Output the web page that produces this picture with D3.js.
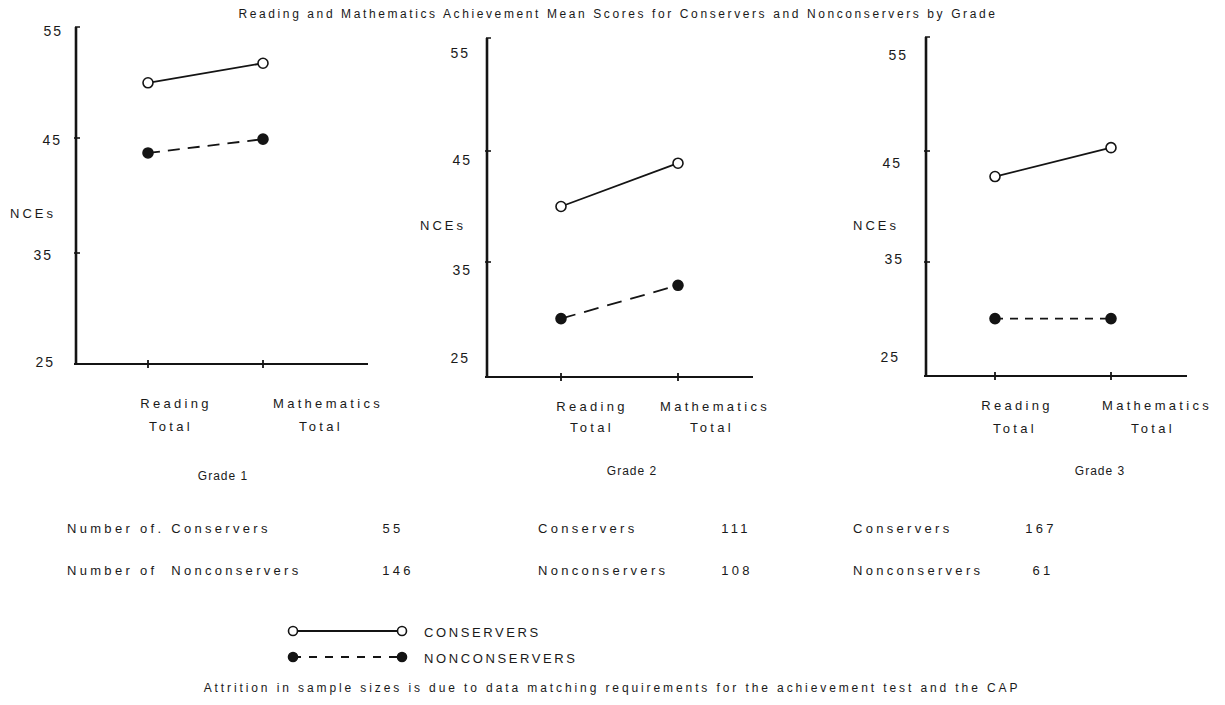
<!DOCTYPE html>
<html>
<head>
<meta charset="utf-8">
<script src="https://cdn.jsdelivr.net/npm/d3@7"></script>
<style>
  body { margin: 0; background: #fff; }
  svg { display: block; font-family: "Liberation Sans", Arial, sans-serif; }
  text { fill: #1a1a1a; }
  .title { font-size: 12px; letter-spacing: 2.6px; }
  .tick-label { font-size: 14px; letter-spacing: 2px; }
  .nces { font-size: 13px; letter-spacing: 3px; }
  .cat { font-size: 13px; letter-spacing: 3.3px; }
  .grade { font-size: 12px; letter-spacing: 1px; }
  .count { font-size: 13px; letter-spacing: 3.3px; }
  .legend { font-size: 13px; letter-spacing: 2.6px; }
  .foot { font-size: 12px; letter-spacing: 2.9px; }
</style>
</head>
<body>
<svg id="chart"></svg>
<script>
// values
const categories = ["Reading Total", "Mathematics Total"];
const grades = ["Grade 1", "Grade 2", "Grade 3"];
const conserverScores = [[49.8, 51.5], [40.0, 43.9], [42.7, 45.3]];
const nonconserverScores = [[43.7, 44.9], [29.9, 32.9], [29.9, 29.9]];
const yTicks = [25, 35, 45, 55];
const conserverLabels = ["Number of. Conservers", "Conservers", "Conservers"];
const nonconserverLabels = ["Number of  Nonconservers", "Nonconservers", "Nonconservers"];
const conserverCounts = [55, 111, 167];
const nonconserverCounts = [146, 108, 61];
const legendLabels = ["CONSERVERS", "NONCONSERVERS"];
const titleText = "Reading and Mathematics Achievement Mean Scores for Conservers and Nonconservers by Grade";
const footText = "Attrition in sample sizes is due to data matching requirements for the achievement test and the CAP";

const width = 1225;
const height = 705;
const ink = "#141414";

// panel placement (the scan is a bit crooked, so every panel gets its own)
const panels = [
  { axisX: 76, top: 27, base: 364, right: 368, xRange: [148, 263], yRange: [368, 23],
    tickRight: [55, 53, 62, 63], tickY: [362, 255, 140, 31],
    ncesX: 10, ncesY: 213, catDx: [[28, 23], [65, 58]], catY: [403, 426],
    gradeX: 223, gradeY: 476, dash: "12,8", countX: 67, numX: [393, 398] },
  { axisX: 487, top: 38, base: 377, right: 753, xRange: [561, 678], yRange: [373, 40],
    tickRight: [470, 472, 472, 470], tickY: [358, 270, 160, 53],
    ncesX: 420, ncesY: 225, catDx: [[31, 31], [37, 34]], catY: [406, 427],
    gradeX: 632, gradeY: 471, dash: "15,9", countX: 538, numX: [736, 737] },
  { axisX: 926, top: 37, base: 376, right: 1187, xRange: [995, 1111], yRange: [373, 40],
    tickRight: [900, 904, 902, 908], tickY: [357, 259, 163, 55],
    ncesX: 853, ncesY: 225, catDx: [[22, 20], [46, 42]], catY: [405, 428],
    gradeX: 1100, gradeY: 471, dash: "8,7", countX: 853, numX: [1041, 1043] }
];
const countRowY = [528, 570];

class GradePanel {
  constructor(svg, layout, index) {
    this.svg = svg;
    this.p = layout;
    this.i = index;
  }

  initialize() {
    const p = this.p;
    this.g = this.svg.append("g").attr("class", "panel");
    this.xScale = d3.scalePoint().domain(categories).range(p.xRange);
    this.yScale = d3.scaleLinear().domain([25, 55]).range(p.yRange);
  }

  drawAxes() {
    const p = this.p;
    const g = this.g;
    const xs = this.xScale;

    // y axis line, a little serif at the top
    g.append("line")
      .attr("x1", p.axisX).attr("x2", p.axisX)
      .attr("y1", p.top).attr("y2", p.base)
      .attr("stroke", ink).attr("stroke-width", 2.6);
    g.append("line")
      .attr("x1", p.axisX - 1).attr("x2", p.axisX + 4)
      .attr("y1", p.top).attr("y2", p.top)
      .attr("stroke", ink).attr("stroke-width", 1.5);

    // x axis line
    g.append("line")
      .attr("x1", p.axisX - 2).attr("x2", p.right)
      .attr("y1", p.base).attr("y2", p.base)
      .attr("stroke", ink).attr("stroke-width", 2.2);

    // small ticks on the y axis
    g.selectAll(".ytick")
      .data(yTicks.filter((d) => d > 25 && d < 55))
      .join("line")
      .attr("class", "ytick")
      .attr("x1", p.axisX - 2).attr("x2", p.axisX + 4)
      .attr("y1", (d) => this.yScale(d)).attr("y2", (d) => this.yScale(d))
      .attr("stroke", ink).attr("stroke-width", 1.6);

    // tick marks on the x axis
    g.selectAll(".xtick")
      .data(categories)
      .join("line")
      .attr("class", "xtick")
      .attr("x1", (d) => xs(d)).attr("x2", (d) => xs(d))
      .attr("y1", p.base - 4).attr("y2", p.base + 4)
      .attr("stroke", ink).attr("stroke-width", 1.8);

    // tick labels, typed slightly off the ticks in the original
    g.selectAll(".tick-label")
      .data(yTicks)
      .join("text")
      .attr("class", "tick-label")
      .attr("x", (d, i) => p.tickRight[i])
      .attr("y", (d, i) => p.tickY[i])
      .attr("dy", "0.35em")
      .attr("text-anchor", "end")
      .text((d) => d);

    g.append("text")
      .attr("class", "nces")
      .attr("x", p.ncesX)
      .attr("y", p.ncesY)
      .attr("dy", "0.35em")
      .text("NCEs");

    // category labels on two lines
    g.selectAll(".cat")
      .data(categories)
      .join("text")
      .attr("class", "cat")
      .attr("text-anchor", "middle")
      .each(function (d, ci) {
        d3.select(this).selectAll("tspan")
          .data(d.split(" "))
          .join("tspan")
          .attr("x", (w, wi) => xs(d) + p.catDx[ci][wi])
          .attr("y", (w, wi) => p.catY[wi])
          .attr("dy", "0.35em")
          .text((w) => w);
      });

    g.append("text")
      .attr("class", "grade")
      .attr("x", p.gradeX)
      .attr("y", p.gradeY)
      .attr("dy", "0.35em")
      .attr("text-anchor", "middle")
      .text(grades[this.i]);
  }

  drawSeries() {
    const p = this.p;
    const line = d3.line()
      .x((d, i) => this.xScale(categories[i]))
      .y((d) => this.yScale(d));

    const series = [
      { values: conserverScores[this.i], dash: null, fill: "#fff" },
      { values: nonconserverScores[this.i], dash: p.dash, fill: ink }
    ];

    series.forEach((s) => {
      this.g.append("path")
        .datum(s.values)
        .attr("d", line)
        .attr("fill", "none")
        .attr("stroke", ink)
        .attr("stroke-width", 1.8)
        .attr("stroke-dasharray", s.dash);

      this.g.selectAll(null)
        .data(s.values)
        .join("circle")
        .attr("cx", (d, i) => this.xScale(categories[i]))
        .attr("cy", (d) => this.yScale(d))
        .attr("r", 5)
        .attr("fill", s.fill)
        .attr("stroke", ink)
        .attr("stroke-width", 1.6);
    });
  }

  drawCounts() {
    const p = this.p;
    const rows = [
      { label: conserverLabels[this.i], n: conserverCounts[this.i] },
      { label: nonconserverLabels[this.i], n: nonconserverCounts[this.i] }
    ];
    const row = this.g.selectAll(".count-row")
      .data(rows)
      .join("g")
      .attr("class", "count-row");
    row.append("text")
      .attr("class", "count")
      .attr("x", p.countX)
      .attr("y", (d, i) => countRowY[i])
      .attr("dy", "0.35em")
      .attr("xml:space", "preserve")
      .text((d) => d.label);
    row.append("text")
      .attr("class", "count")
      .attr("x", (d, i) => p.numX[i])
      .attr("y", (d, i) => countRowY[i])
      .attr("dy", "0.35em")
      .attr("text-anchor", "middle")
      .text((d) => d.n);
  }
}

const svg = d3.select("#chart")
  .attr("width", width)
  .attr("height", height)
  .attr("viewBox", [0, 0, width, height]);

svg.append("rect").attr("width", width).attr("height", height).attr("fill", "#fff");

svg.append("text")
  .attr("class", "title")
  .attr("x", 618)
  .attr("y", 14)
  .attr("dy", "0.35em")
  .attr("text-anchor", "middle")
  .text(titleText);

panels.forEach((layout, i) => {
  const panel = new GradePanel(svg, layout, i);
  panel.initialize();
  panel.drawAxes();
  panel.drawSeries();
  panel.drawCounts();
});

// legend
const legend = svg.append("g").attr("class", "legend-group");
const legendX = d3.scalePoint().domain(["start", "end"]).range([293, 402]);
const legendRows = [
  { label: legendLabels[0], y: 631, dash: null, fill: "#fff" },
  { label: legendLabels[1], y: 657, dash: "8,8", fill: ink }
];
legendRows.forEach((r) => {
  legend.append("line")
    .attr("x1", legendX("start")).attr("x2", legendX("end"))
    .attr("y1", r.y).attr("y2", r.y)
    .attr("stroke", ink).attr("stroke-width", 1.8)
    .attr("stroke-dasharray", r.dash);
  legend.selectAll(null)
    .data(legendX.domain())
    .join("circle")
    .attr("cx", (d) => legendX(d))
    .attr("cy", r.y)
    .attr("r", 4.5)
    .attr("fill", r.fill)
    .attr("stroke", ink)
    .attr("stroke-width", 1.6);
  legend.append("text")
    .attr("class", "legend")
    .attr("x", 424)
    .attr("y", r.y + 1)
    .attr("dy", "0.35em")
    .text(r.label);
});

svg.append("text")
  .attr("class", "foot")
  .attr("x", 612)
  .attr("y", 688)
  .attr("dy", "0.35em")
  .attr("text-anchor", "middle")
  .text(footText);
</script>
</body>
</html>
